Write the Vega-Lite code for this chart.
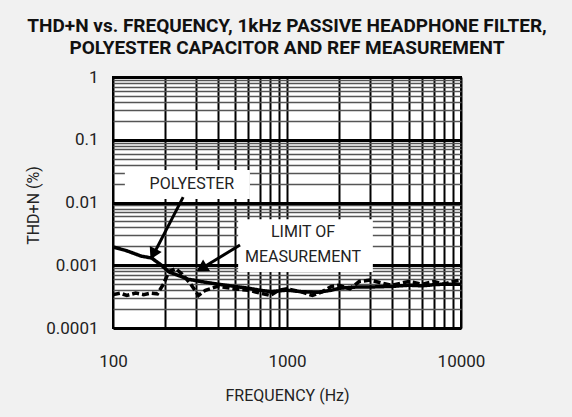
{
  "$schema": "https://vega.github.io/schema/vega-lite/v6.json",
  "autosize": "none",
  "width": 348,
  "height": 251,
  "padding": {"left": 113, "top": 77, "right": 111, "bottom": 89},
  "background": "#f1f1f1",
  "title": {
    "text": ["THD+N vs. FREQUENCY, 1kHz PASSIVE HEADPHONE FILTER,", "POLYESTER CAPACITOR AND REF MEASUREMENT"],
    "font": "Roboto, Liberation Sans, sans-serif",
    "fontSize": 19,
    "fontWeight": "bold",
    "lineHeight": 22,
    "color": "#111",
    "anchor": "middle",
    "offset": 10
  },
  "config": {
    "view": {"fill": "white", "stroke": "black", "strokeWidth": 2},
    "axis": {
      "labelFont": "Roboto, Liberation Sans, sans-serif",
      "titleFont": "Roboto, Liberation Sans, sans-serif",
      "labelFontSize": 17,
      "titleFontSize": 16,
      "titleFontWeight": "normal",
      "labelColor": "#222",
      "titleColor": "#222",
      "labelFlush": false,
      "domain": false,
      "ticks": false,
      "gridOpacity": 1
    }
  },
  "datasets": {
    "curves": [
      {"freq": 100, "thd": 0.00196, "series": "POLYESTER"},
      {"freq": 120, "thd": 0.0017, "series": "POLYESTER"},
      {"freq": 145, "thd": 0.0014, "series": "POLYESTER"},
      {"freq": 167, "thd": 0.0013, "series": "POLYESTER"},
      {"freq": 190, "thd": 0.001, "series": "POLYESTER"},
      {"freq": 210, "thd": 0.00078, "series": "POLYESTER"},
      {"freq": 240, "thd": 0.00068, "series": "POLYESTER"},
      {"freq": 270, "thd": 0.0006, "series": "POLYESTER"},
      {"freq": 320, "thd": 0.00055, "series": "POLYESTER"},
      {"freq": 400, "thd": 0.0005, "series": "POLYESTER"},
      {"freq": 500, "thd": 0.00046, "series": "POLYESTER"},
      {"freq": 600, "thd": 0.00043, "series": "POLYESTER"},
      {"freq": 700, "thd": 0.0004, "series": "POLYESTER"},
      {"freq": 800, "thd": 0.00038, "series": "POLYESTER"},
      {"freq": 1000, "thd": 0.0004, "series": "POLYESTER"},
      {"freq": 1200, "thd": 0.00038, "series": "POLYESTER"},
      {"freq": 1500, "thd": 0.00037, "series": "POLYESTER"},
      {"freq": 1800, "thd": 0.0004, "series": "POLYESTER"},
      {"freq": 2000, "thd": 0.00043, "series": "POLYESTER"},
      {"freq": 2500, "thd": 0.00045, "series": "POLYESTER"},
      {"freq": 3000, "thd": 0.00045, "series": "POLYESTER"},
      {"freq": 4000, "thd": 0.00046, "series": "POLYESTER"},
      {"freq": 5000, "thd": 0.00048, "series": "POLYESTER"},
      {"freq": 6000, "thd": 0.00047, "series": "POLYESTER"},
      {"freq": 7000, "thd": 0.00049, "series": "POLYESTER"},
      {"freq": 8000, "thd": 0.0005, "series": "POLYESTER"},
      {"freq": 10000, "thd": 0.0005, "series": "POLYESTER"},
      {"freq": 100, "thd": 0.00034, "series": "REF"},
      {"freq": 110, "thd": 0.00036, "series": "REF"},
      {"freq": 120, "thd": 0.00033, "series": "REF"},
      {"freq": 135, "thd": 0.00036, "series": "REF"},
      {"freq": 150, "thd": 0.00034, "series": "REF"},
      {"freq": 165, "thd": 0.00036, "series": "REF"},
      {"freq": 180, "thd": 0.00035, "series": "REF"},
      {"freq": 195, "thd": 0.0005, "series": "REF"},
      {"freq": 210, "thd": 0.0008, "series": "REF"},
      {"freq": 230, "thd": 0.00088, "series": "REF"},
      {"freq": 250, "thd": 0.00072, "series": "REF"},
      {"freq": 280, "thd": 0.0005, "series": "REF"},
      {"freq": 310, "thd": 0.00033, "series": "REF"},
      {"freq": 340, "thd": 0.0004, "series": "REF"},
      {"freq": 400, "thd": 0.00046, "series": "REF"},
      {"freq": 500, "thd": 0.00042, "series": "REF"},
      {"freq": 600, "thd": 0.0004, "series": "REF"},
      {"freq": 700, "thd": 0.00036, "series": "REF"},
      {"freq": 800, "thd": 0.00033, "series": "REF"},
      {"freq": 900, "thd": 0.0004, "series": "REF"},
      {"freq": 1000, "thd": 0.00042, "series": "REF"},
      {"freq": 1200, "thd": 0.00038, "series": "REF"},
      {"freq": 1400, "thd": 0.00033, "series": "REF"},
      {"freq": 1600, "thd": 0.00038, "series": "REF"},
      {"freq": 1800, "thd": 0.00046, "series": "REF"},
      {"freq": 2000, "thd": 0.00048, "series": "REF"},
      {"freq": 2300, "thd": 0.00042, "series": "REF"},
      {"freq": 2600, "thd": 0.00055, "series": "REF"},
      {"freq": 3000, "thd": 0.00058, "series": "REF"},
      {"freq": 3500, "thd": 0.00052, "series": "REF"},
      {"freq": 4000, "thd": 0.00048, "series": "REF"},
      {"freq": 5000, "thd": 0.00055, "series": "REF"},
      {"freq": 6000, "thd": 0.0005, "series": "REF"},
      {"freq": 7000, "thd": 0.00055, "series": "REF"},
      {"freq": 8000, "thd": 0.0005, "series": "REF"},
      {"freq": 9000, "thd": 0.00055, "series": "REF"},
      {"freq": 10000, "thd": 0.00058, "series": "REF"}
    ],
    "boxes": [
      {"f1": 117, "f2": 612, "v1": 0.0329, "v2": 0.0114},
      {"f1": 524, "f2": 3114, "v1": 0.0054, "v2": 0.00078}
    ],
    "labels": [
      {"freq": 284, "thd": 0.0197, "text": "POLYESTER"},
      {"freq": 1236, "thd": 0.00339, "text": "LIMIT OF"},
      {"freq": 1236, "thd": 0.00135, "text": "MEASUREMENT"}
    ],
    "arrows": [
      {"f1": 253, "v1": 0.0122, "f2": 167, "v2": 0.00131},
      {"f1": 537, "v1": 0.0021, "f2": 312, "v2": 0.00084}
    ]
  },
  "encoding": {
    "x": {
      "field": "freq", "type": "quantitative",
      "scale": {"type": "log", "domain": [100, 10000], "nice": false},
      "axis": {
        "title": "FREQUENCY (Hz)",
        "values": [100,200,300,400,500,600,700,800,900,1000,2000,3000,4000,5000,6000,7000,8000,9000,10000],
        "labelExpr": "indexof([100,1000,10000], datum.value) >= 0 ? format(datum.value, 'd') : ''",
        "labelPadding": 25,
        "titleBaseline": "middle",
        "titleY": 67,
        "gridColor": "black",
        "gridWidth": 2
      }
    },
    "y": {
      "field": "thd", "type": "quantitative",
      "scale": {"type": "log", "domain": [0.0001, 1], "nice": false},
      "axis": {
        "title": "THD+N (%)",
        "values": [0.0001,0.0002,0.0003,0.0004,0.0005,0.0006,0.0007,0.0008,0.0009,0.001,0.002,0.003,0.004,0.005,0.006,0.007,0.008,0.009,0.01,0.02,0.03,0.04,0.05,0.06,0.07,0.08,0.09,0.1,0.2,0.3,0.4,0.5,0.6,0.7,0.8,0.9,1],
        "labelExpr": "indexof([0.0001,0.001,0.01,0.1,1], datum.value) >= 0 ? format(datum.value, '~g') : ''",
        "labelPadding": 15,
        "titleBaseline": "middle",
        "titleX": -80,
        "titleY": 128,
        "gridColor": {"condition": {"test": "indexof([0.0001,0.001,0.01,0.1,1], datum.value) >= 0", "value": "black"}, "value": "#555"},
        "gridWidth": {"condition": {"test": "indexof([0.0001,0.001,0.01,0.1,1], datum.value) >= 0", "value": 3}, "value": 1.5}
      }
    }
  },
  "layer": [
    {
      "data": {"name": "boxes"},
      "mark": {"type": "rect", "fill": "white"},
      "encoding": {
        "x": {"field": "f1", "type": "quantitative"},
        "x2": {"field": "f2"},
        "y": {"field": "v1", "type": "quantitative"},
        "y2": {"field": "v2"}
      }
    },
    {
      "data": {"name": "curves"},
      "mark": {"type": "line", "color": "black", "strokeWidth": 3.5},
      "encoding": {
        "strokeDash": {"field": "series", "type": "nominal", "scale": {"domain": ["POLYESTER", "REF"], "range": [[1, 0], [7, 3]]}, "legend": null}
      }
    },
    {
      "data": {"name": "arrows"},
      "mark": {"type": "rule", "color": "black", "strokeWidth": 3},
      "encoding": {
        "x": {"field": "f1", "type": "quantitative"},
        "x2": {"field": "f2"},
        "y": {"field": "v1", "type": "quantitative"},
        "y2": {"field": "v2"}
      }
    },
    {
      "data": {"values": [{"freq": 172, "thd": 0.0016}]},
      "mark": {"type": "point", "shape": "triangle", "filled": true, "color": "black", "size": 180, "angle": 207, "opacity": 1}
    },
    {
      "data": {"values": [{"freq": 330, "thd": 0.00093}]},
      "mark": {"type": "point", "shape": "triangle", "filled": true, "color": "black", "size": 180, "angle": 239, "opacity": 1}
    },
    {
      "data": {"name": "labels"},
      "mark": {"type": "text", "font": "Roboto, Liberation Sans, sans-serif", "fontSize": 16, "color": "#222", "align": "center", "baseline": "middle"},
      "encoding": {"text": {"field": "text"}}
    }
  ]
}
